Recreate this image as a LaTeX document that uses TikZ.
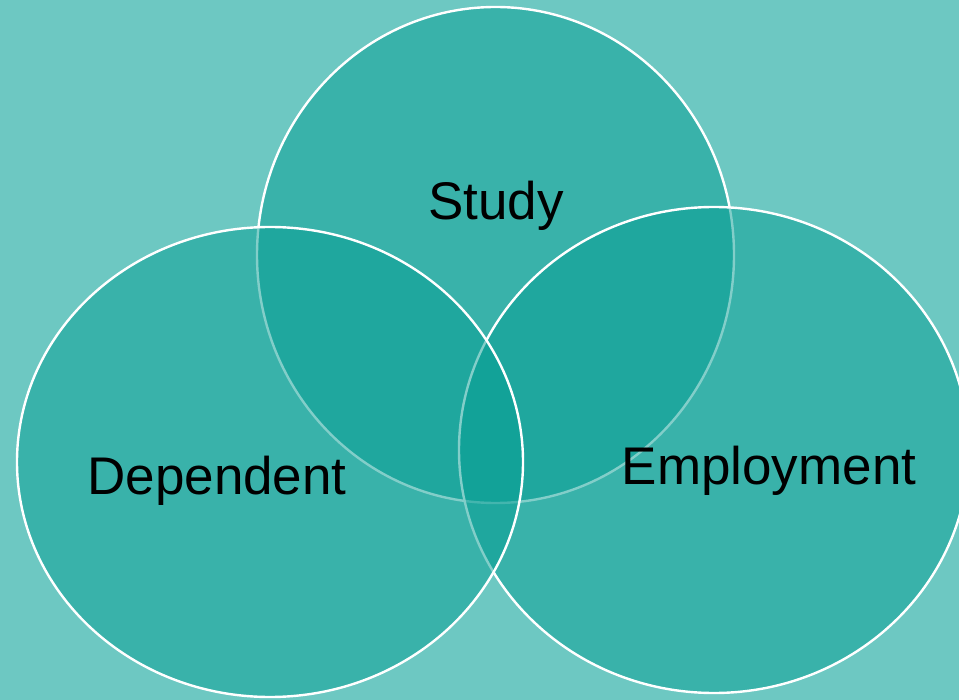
\documentclass[tikz,border=0pt]{standalone}
\usepackage{fontspec}
\setmainfont{Liberation Sans}
\definecolor{bgteal}{RGB}{109,200,194}
\definecolor{venncol}{RGB}{6,158,148}
\begin{document}
\begin{tikzpicture}[x=1pt,y=-1pt,
  venn/.style={fill=venncol,fill opacity=0.5,draw=white,line width=2.4pt},
  lbl/.style={anchor=base,inner sep=0pt,text=black,font=\fontsize{53}{63}\selectfont}]
\fill[bgteal] (0,0) rectangle (959,700);
\useasboundingbox (0,0) rectangle (959,700);
\draw[venn] (495.5,255) ellipse [x radius=238.5pt, y radius=248pt];
\draw[venn] (714,450) ellipse [x radius=255pt, y radius=243pt];
\draw[venn] (270,462) ellipse [x radius=253pt, y radius=235pt];
\node[lbl] (study) at (496,220) {Study};
\node[lbl] (dependent) at (217,495) {Dependent};
\node[lbl] (employment) at (769,485) {Employment};
\end{tikzpicture}
\end{document}
